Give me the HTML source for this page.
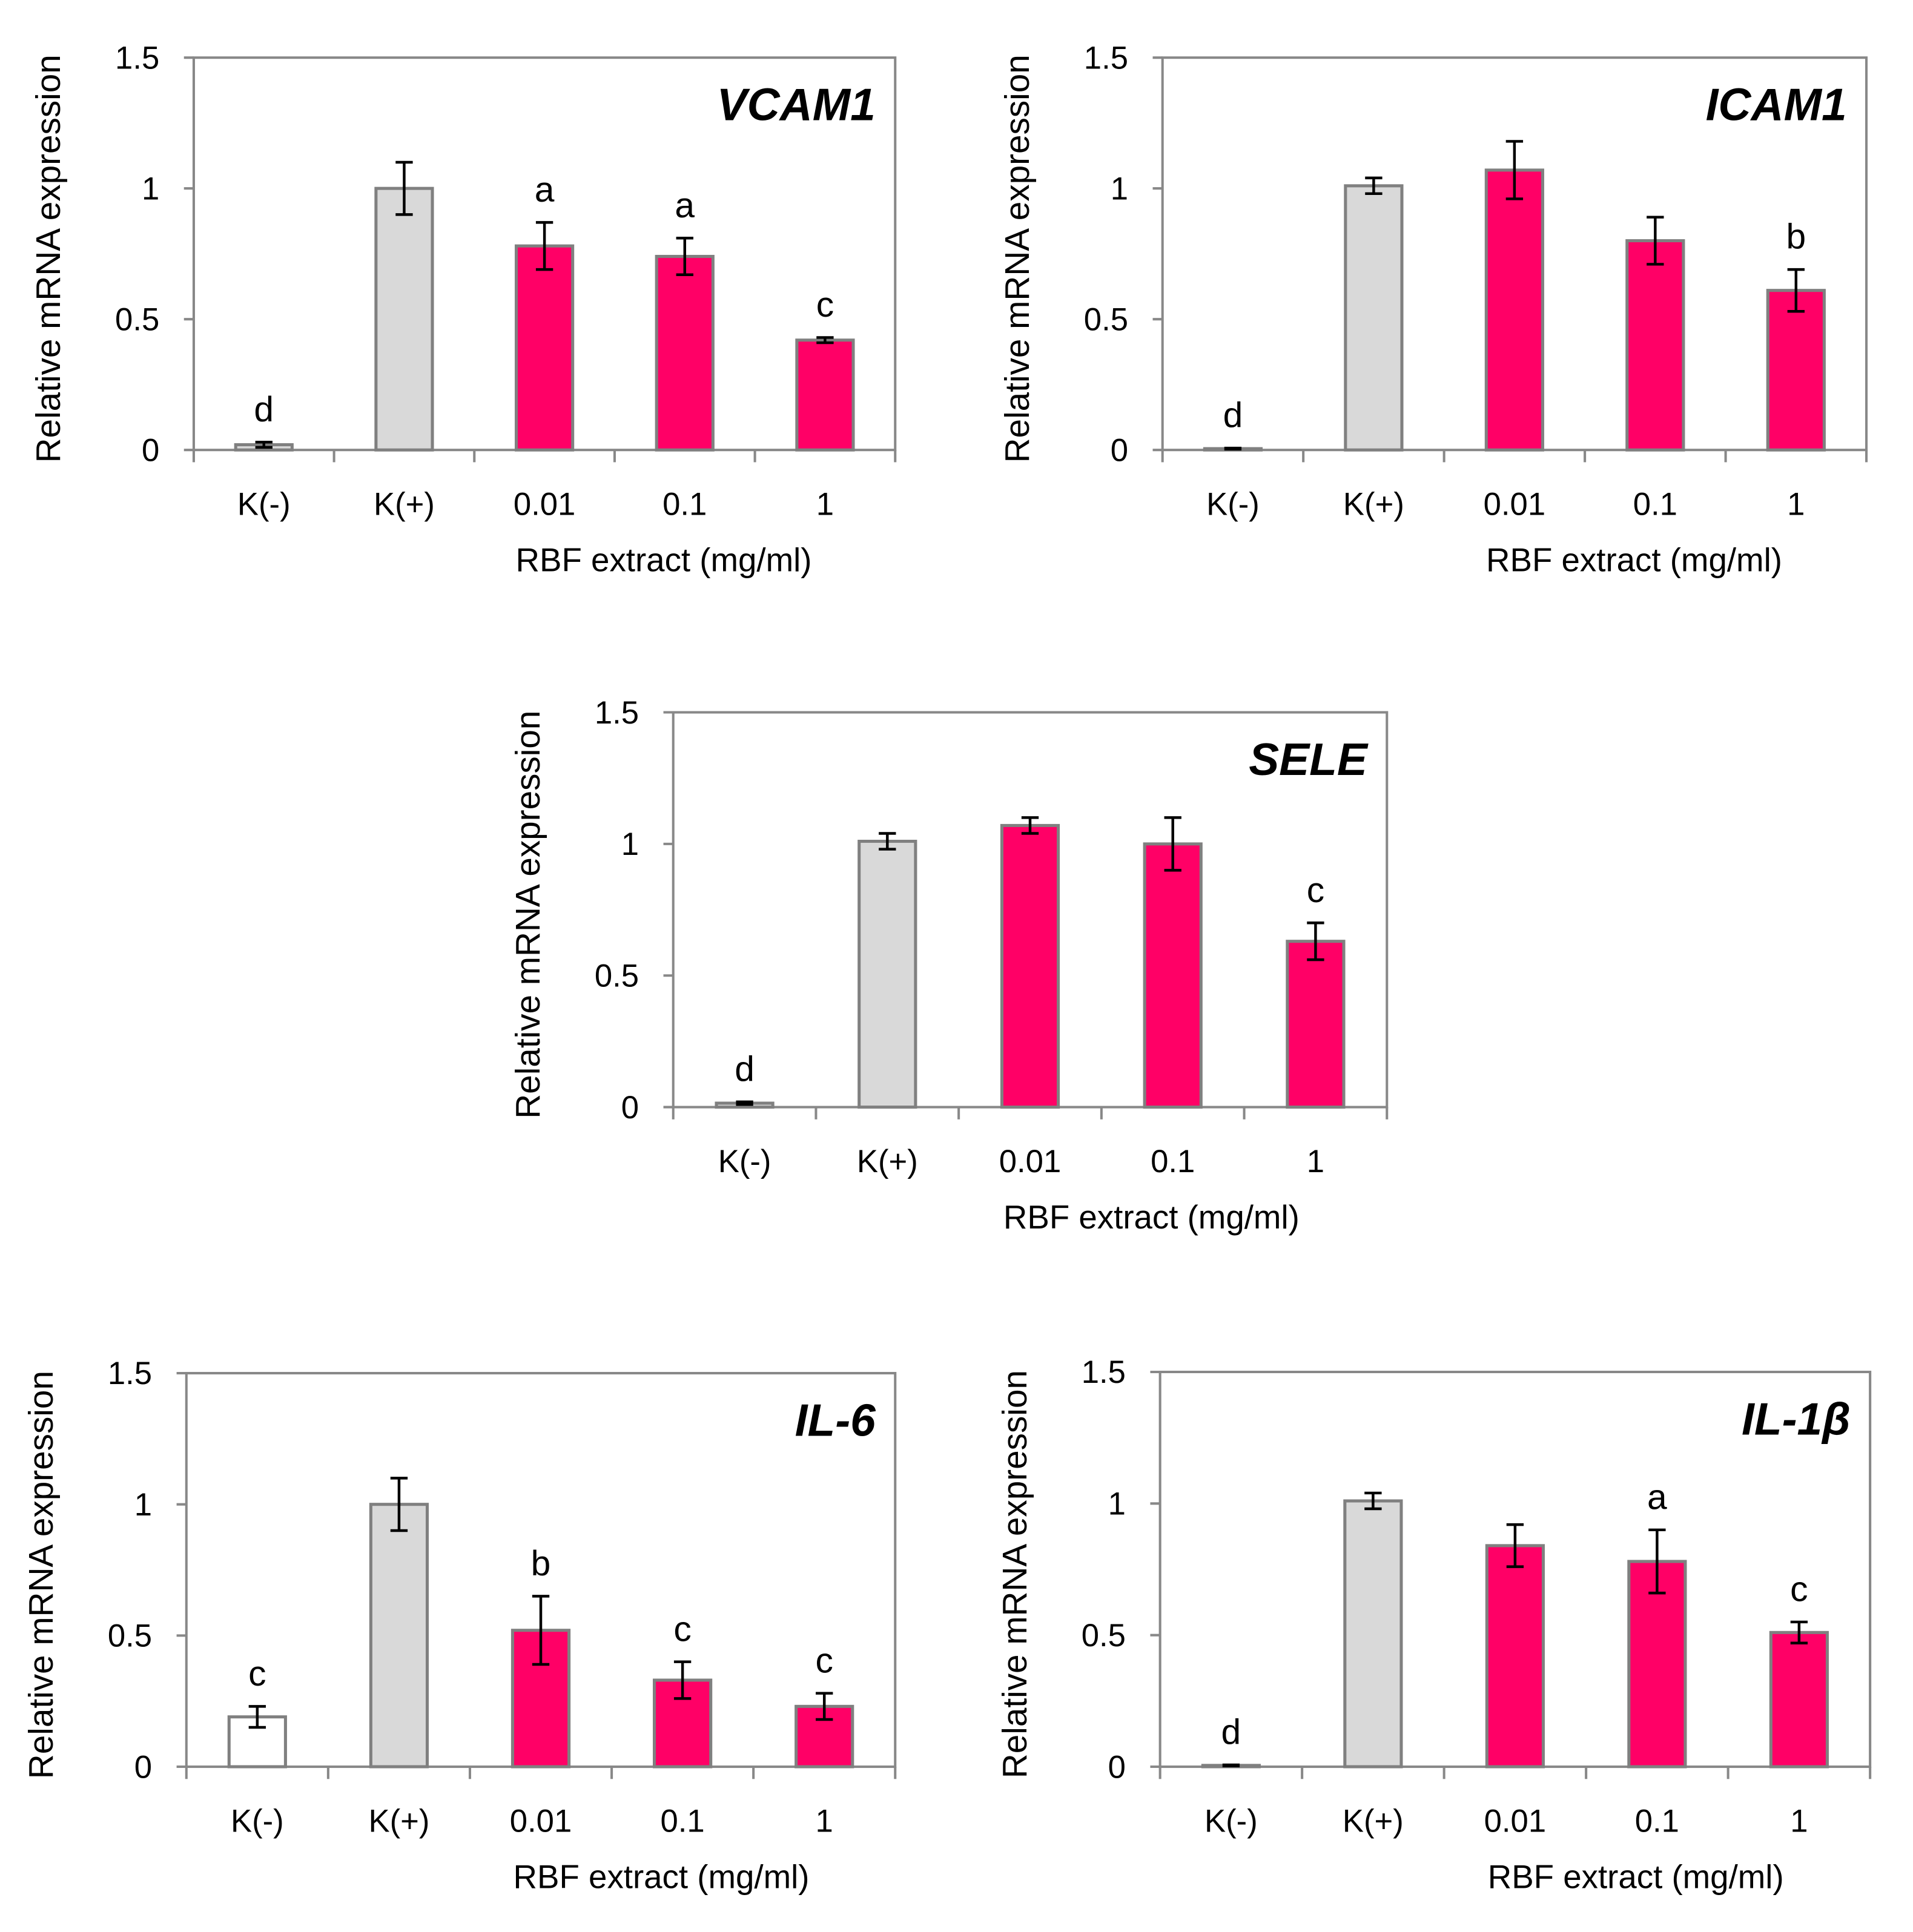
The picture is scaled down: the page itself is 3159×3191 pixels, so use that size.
<!DOCTYPE html>
<html><head><meta charset="utf-8"><style>html,body{margin:0;padding:0;background:#fff}svg{display:block}</style></head>
<body>
<svg id="fig" width="3159" height="3191" viewBox="0 0 1560 1575.8" preserveAspectRatio="none" xmlns="http://www.w3.org/2000/svg" font-family="'Liberation Sans', sans-serif"></svg>
<script>
const categories = ["K(-)", "K(+)", "0.01", "0.1", "1"];
const vcamValues = [0.02, 1.0, 0.78, 0.74, 0.42];
const vcamErrors = [0.01, 0.1, 0.09, 0.07, 0.01];
const vcamLetters = ["d", "", "a", "a", "c"];
const icamValues = [0.005, 1.01, 1.07, 0.8, 0.61];
const icamErrors = [0.002, 0.03, 0.11, 0.09, 0.08];
const icamLetters = ["d", "", "", "", "b"];
const seleValues = [0.015, 1.01, 1.07, 1.0, 0.63];
const seleErrors = [0.005, 0.03, 0.03, 0.1, 0.07];
const seleLetters = ["d", "", "", "", "c"];
const il6Values = [0.19, 1.0, 0.52, 0.33, 0.23];
const il6Errors = [0.04, 0.1, 0.13, 0.07, 0.05];
const il6Letters = ["c", "", "b", "c", "c"];
const il1bValues = [0.005, 1.01, 0.84, 0.78, 0.51];
const il1bErrors = [0.002, 0.03, 0.08, 0.12, 0.04];
const il1bLetters = ["d", "", "", "a", "c"];
const yTicks = [0, 0.5, 1, 1.5];
const yTickLabels = ["0", "0.5", "1", "1.5"];

const NS = "http://www.w3.org/2000/svg";
const svg = document.getElementById("fig");
function mk(tag, attrs, parent, text) {
  const e = document.createElementNS(NS, tag);
  for (const k in attrs) e.setAttribute(k, attrs[k]);
  if (text !== undefined) e.textContent = text;
  parent.appendChild(e);
  return e;
}
const panels = [
  {id:"vcam1", title:"VCAM1", L:158, R:730, T:47, B:367, v:vcamValues, e:vcamErrors, l:vcamLetters, white:false},
  {id:"icam1", title:"ICAM1", L:948, R:1522, T:47, B:367, v:icamValues, e:icamErrors, l:icamLetters, white:false},
  {id:"sele", title:"SELE", L:549, R:1131, T:581, B:903, v:seleValues, e:seleErrors, l:seleLetters, white:false},
  {id:"il6", title:"IL-6", L:152, R:730, T:1120, B:1441, v:il6Values, e:il6Errors, l:il6Letters, white:true},
  {id:"il1b", title:"IL-1β", L:946, R:1525, T:1119, B:1441, v:il1bValues, e:il1bErrors, l:il1bLetters, white:false}
];
panels.forEach(p => {
  const g = mk("g", {}, svg);
  
  
  const y = v => p.B - (v / 1.5) * (p.B - p.T);
  const cw = (p.R - p.L) / categories.length;
  const x = i => p.L + cw * (i + 0.5);
  const frame = mk("rect", {x:p.L, y:p.T, width:p.R-p.L, height:p.B-p.T, fill:"none", stroke:"#888", "stroke-width":2}, g);
  
  
  yTicks.forEach((t, k) => {
    mk("line", {x1:p.L-8, x2:p.L, y1:y(t), y2:y(t), stroke:"#888", "stroke-width":2}, g);
    const tl = mk("text", {x:p.L-28, y:y(t)+9, "text-anchor":"end", "font-size":26, fill:"#000"}, g, yTickLabels[k]);
    
    
  });
  for (let i = 0; i <= categories.length; i++) {
    mk("line", {x1:p.L+cw*i, x2:p.L+cw*i, y1:p.B, y2:p.B+10, stroke:"#888", "stroke-width":2}, g);
  }
  categories.forEach((c, i) => {
    const fill = i === 0 && p.white ? "#fff" : (i < 2 ? "#d9d9d9" : "#ff0066");
    const bar = mk("rect", {x:x(i)-23, y:y(p.v[i]), width:46, height:p.B-y(p.v[i]), fill:fill, stroke:"#808080", "stroke-width":2.5}, g);
    
    
    const top = y(p.v[i] + p.e[i]), bot = y(p.v[i] - p.e[i]);
    const eb = mk("path", {d:`M${x(i)-7},${top}H${x(i)+7}M${x(i)},${top}V${bot}M${x(i)-7},${bot}H${x(i)+7}`, stroke:"#000", "stroke-width":2.2, fill:"none"}, g);
    
    
    if (p.l[i]) {
      const lt = mk("text", {x:x(i), y:top-17, "text-anchor":"middle", "font-size":29, fill:"#000"}, g, p.l[i]);
      
      
    }
    const cl = mk("text", {x:x(i), y:p.B+53, "text-anchor":"middle", "font-size":26, fill:"#000"}, g, c);
    
    
  });
  const xt = mk("text", {x:p.L + (p.R - p.L) * 0.67, y:p.B+99, "text-anchor":"middle", "font-size":27, fill:"#000"}, g, "RBF extract (mg/ml)");
  
  
  const cy = (p.T + p.B) / 2 + 4;
  const yt = mk("text", {x:0, y:0, transform:`translate(${p.L-109},${cy}) rotate(-90)`, "text-anchor":"middle", "font-size":28, fill:"#000"}, g, "Relative mRNA expression");
  
  
  const tt = mk("text", {x:p.R-16, y:p.T+51, "text-anchor":"end", "font-size":37, "font-weight":"bold", "font-style":"italic", fill:"#000"}, g, p.title);
  
  
});
</script>
</body></html>
